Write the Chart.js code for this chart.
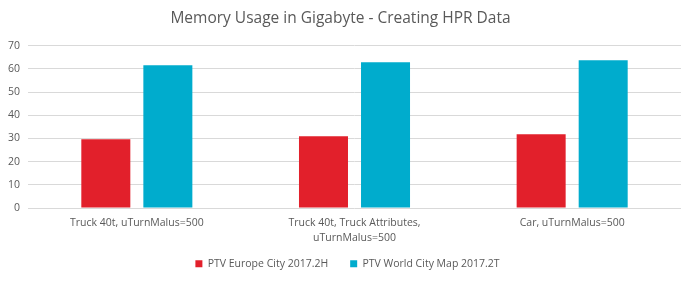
<!DOCTYPE html>
<html>
<head>
<meta charset="utf-8">
<script src="https://cdn.jsdelivr.net/npm/chart.js@4"></script>
<style>
  html, body { margin: 0; padding: 0; background: #fff; }
  #wrap { width: 693px; height: 282px; }
</style>
</head>
<body>
<div id="wrap"><canvas id="myChart"></canvas></div>
<script>
// data
const categories = [
    'Truck 40t, uTurnMalus=500',
    ['Truck 40t, Truck Attributes,', 'uTurnMalus=500'],
    'Car, uTurnMalus=500'
];
const europeCity = [29.7, 31.0, 31.8];
const worldCityMap = [61.5, 62.8, 63.7];
const seriesNames = ['PTV Europe City 2017.2H', 'PTV World City Map 2017.2T'];

const textColor = '#595959';
const fontName = "'Open Sans', 'Noto Sans', sans-serif";

// legend: wide gap between the items, but less space above them
const legendGap = 22;
const legendTopPad = 13;
const legendOffsetX = 7;

const ctx = document.getElementById('myChart').getContext('2d');
const myChart = new Chart(ctx, {
    type: 'bar',
    data: {
        labels: categories,
        datasets: [{
            label: seriesNames[0],
            data: europeCity,
            backgroundColor: '#E2202B'
        }, {
            label: seriesNames[1],
            data: worldCityMap,
            backgroundColor: '#00ACCD'
        }]
    },
    options: {
        responsive: true,
        maintainAspectRatio: false,
        animation: false,
        layout: { padding: { left: 0, right: 12, top: 7, bottom: 3 } },
        datasets: {
            bar: { categoryPercentage: 0.57, barPercentage: 0.79 }
        },
        scales: {
            x: {
                grid: { display: false },
                border: { display: false },
                ticks: {
                    color: textColor,
                    font: { family: fontName, size: 10.5, lineHeight: 1.4 },
                    maxRotation: 0,
                    autoSkip: false,
                    padding: 0
                }
            },
            y: {
                min: 0,
                max: 70,
                ticks: {
                    stepSize: 10,
                    color: textColor,
                    font: { family: fontName, size: 10.5 },
                    padding: 8
                },
                grid: { color: '#d9d9d9', lineWidth: 1, drawTicks: false },
                border: { display: false }
            }
        },
        plugins: {
            title: {
                display: true,
                text: 'Memory Usage in Gigabyte - Creating HPR Data',
                color: textColor,
                font: { family: fontName, size: 15.5, weight: 'normal' },
                padding: { top: 2, bottom: 18 }
            },
            legend: {
                position: 'bottom',
                labels: {
                    color: textColor,
                    font: { family: fontName, size: 10.5 },
                    boxWidth: 7,
                    boxHeight: 7,
                    padding: legendGap
                }
            },
            tooltip: { enabled: false }
        }
    }
});

// labels.padding is also put above the row, so take some of it back
// and nudge the row to the right to centre it on the canvas
const legend = myChart.legend;
const shift = legendGap - legendTopPad;
const origFit = legend.fit;
const origDraw = legend.draw;
legend.fit = function () {
    origFit.call(this);
    this.height -= shift;
};
legend.draw = function () {
    this.top -= shift;
    this.left += legendOffsetX;
    this.right += legendOffsetX;
    origDraw.call(this);
    this.top += shift;
    this.left -= legendOffsetX;
    this.right -= legendOffsetX;
};
myChart.update();
</script>
</body>
</html>
